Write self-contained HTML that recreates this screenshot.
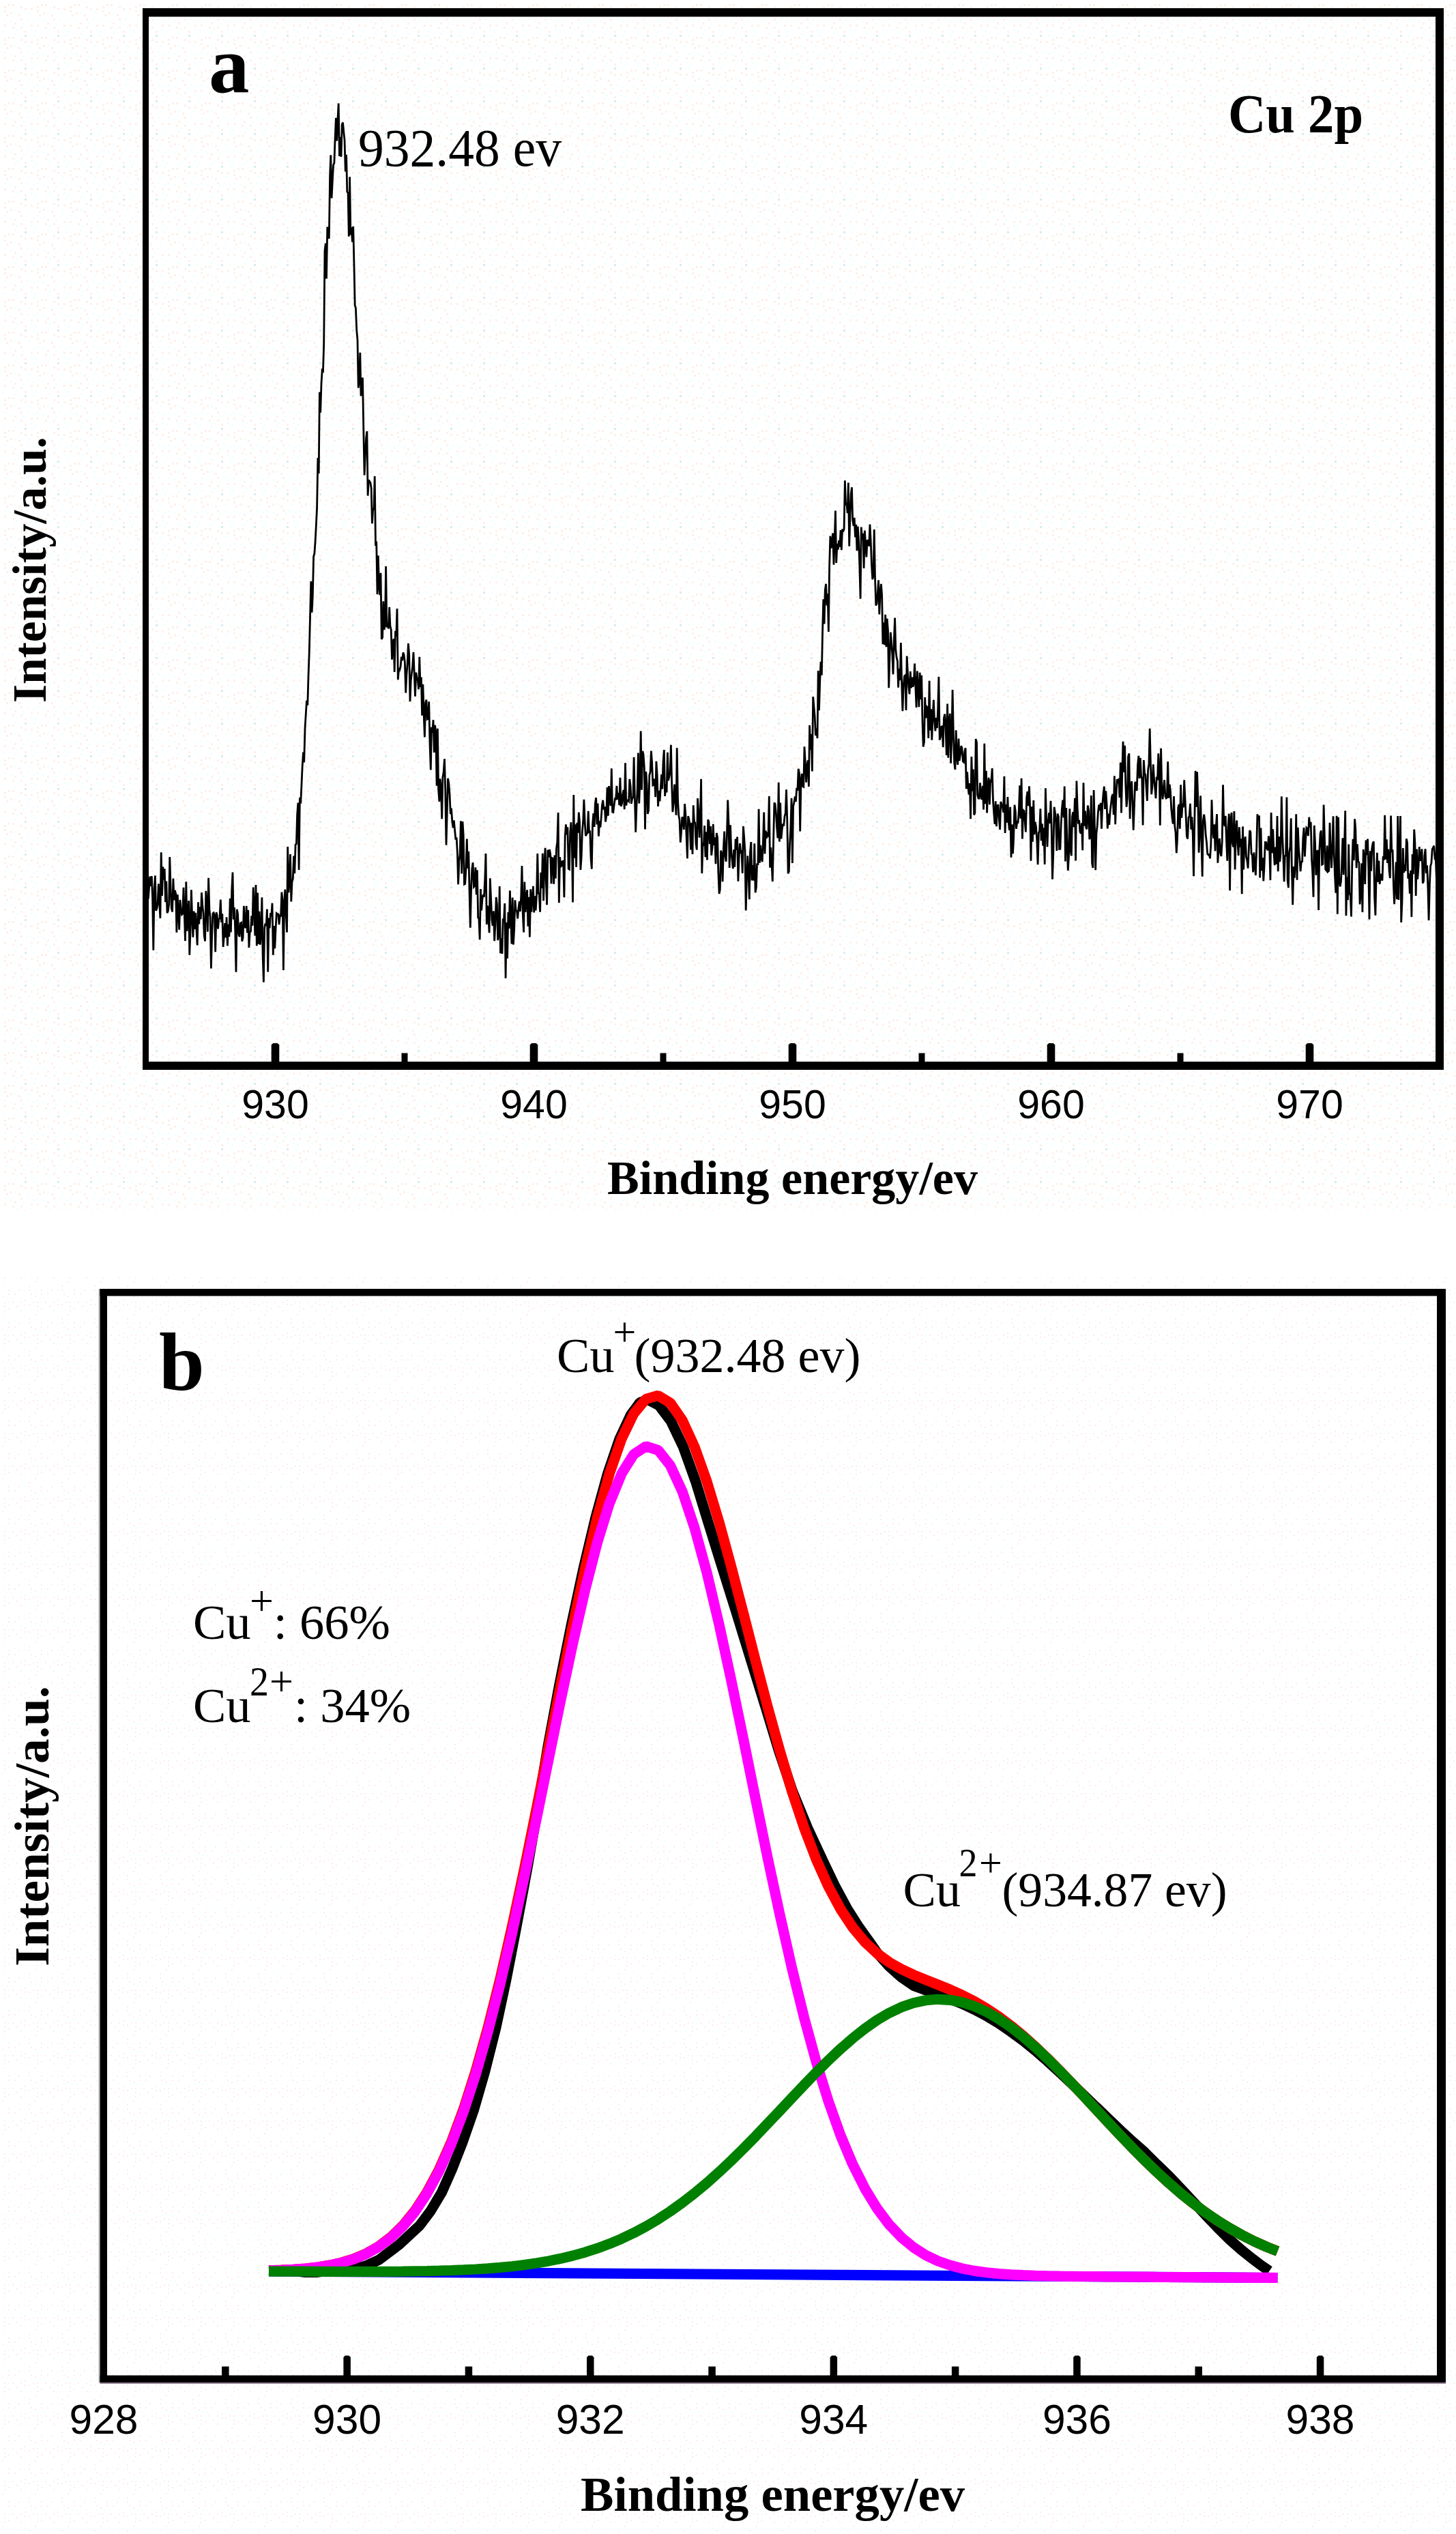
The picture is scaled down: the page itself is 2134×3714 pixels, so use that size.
<!DOCTYPE html>
<html lang="en"><head><meta charset="utf-8"><title>XPS Cu 2p spectra</title>
<style>html,body{margin:0;padding:0;background:#fff}body{width:2134px;height:3714px;overflow:hidden}svg{display:block}text{fill:#000}.sb{font-family:"Liberation Serif","Times New Roman",serif;font-weight:bold}.sr{font-family:"Liberation Serif","Times New Roman",serif}.ss{font-family:"Liberation Sans",Arial,sans-serif}</style></head><body>
<svg width="2134" height="3714" viewBox="0 0 2134 3714">
<defs>
<pattern id="da" width="48" height="48" patternUnits="userSpaceOnUse"><rect x="36" y="3" width="3" height="3" fill="#d6eded"/><rect x="6" y="9" width="3" height="3" fill="#fcf1ea"/><rect x="6" y="36" width="3" height="3" fill="#fcf1ea"/><rect x="39" y="27" width="3" height="3" fill="#f1ffff"/><rect x="0" y="3" width="3" height="3" fill="#f1ffff"/><rect x="15" y="18" width="3" height="3" fill="#fcf1ea"/><rect x="27" y="21" width="3" height="3" fill="#fcf1ea"/><rect x="12" y="6" width="3" height="3" fill="#fcf1ea"/><rect x="33" y="33" width="3" height="3" fill="#f1ffff"/><rect x="21" y="18" width="3" height="3" fill="#f1ffff"/><rect x="30" y="27" width="3" height="3" fill="#fcf1ea"/><rect x="36" y="45" width="3" height="3" fill="#fcf1ea"/><rect x="36" y="12" width="3" height="3" fill="#fcf1ea"/><rect x="15" y="30" width="3" height="3" fill="#f1ffff"/><rect x="3" y="45" width="3" height="3" fill="#f1ffff"/><rect x="45" y="12" width="3" height="3" fill="#fcf1ea"/><rect x="6" y="15" width="3" height="3" fill="#fcf1ea"/><rect x="9" y="21" width="3" height="3" fill="#fcf1ea"/><rect x="21" y="0" width="3" height="3" fill="#f1ffff"/><rect x="24" y="42" width="3" height="3" fill="#f1ffff"/><rect x="21" y="33" width="3" height="3" fill="#fcf1ea"/><rect x="30" y="9" width="3" height="3" fill="#fcf1ea"/><rect x="18" y="39" width="3" height="3" fill="#fcf1ea"/><rect x="0" y="30" width="3" height="3" fill="#f1ffff"/><rect x="42" y="18" width="3" height="3" fill="#f1ffff"/><rect x="45" y="36" width="3" height="3" fill="#fcf1ea"/><rect x="18" y="6" width="3" height="3" fill="#fcf1ea"/><rect x="30" y="39" width="3" height="3" fill="#fcf1ea"/><rect x="6" y="27" width="3" height="3" fill="#f1ffff"/><rect x="45" y="42" width="3" height="3" fill="#f1ffff"/></pattern>
<pattern id="db" width="48" height="48" patternUnits="userSpaceOnUse"><rect x="30" y="36" width="2" height="2" fill="#fcecec"/><rect x="0" y="36" width="2" height="2" fill="#fcecec"/><rect x="21" y="24" width="2" height="2" fill="#fcecec"/><rect x="30" y="12" width="2" height="2" fill="#f0ffff"/><rect x="45" y="0" width="2" height="2" fill="#f0ffff"/><rect x="12" y="18" width="2" height="2" fill="#fcecec"/><rect x="27" y="18" width="2" height="2" fill="#fcecec"/><rect x="6" y="0" width="2" height="2" fill="#fcecec"/><rect x="9" y="30" width="2" height="2" fill="#f0ffff"/><rect x="36" y="9" width="2" height="2" fill="#f0ffff"/><rect x="12" y="45" width="2" height="2" fill="#fcecec"/><rect x="6" y="42" width="2" height="2" fill="#fcecec"/><rect x="36" y="39" width="2" height="2" fill="#fcecec"/><rect x="3" y="18" width="2" height="2" fill="#f0ffff"/><rect x="30" y="30" width="2" height="2" fill="#f0ffff"/><rect x="30" y="0" width="2" height="2" fill="#fcecec"/><rect x="45" y="24" width="2" height="2" fill="#fcecec"/><rect x="42" y="12" width="2" height="2" fill="#fcecec"/><rect x="15" y="30" width="2" height="2" fill="#f0ffff"/><rect x="15" y="9" width="2" height="2" fill="#f0ffff"/><rect x="24" y="42" width="2" height="2" fill="#fcecec"/><rect x="42" y="39" width="2" height="2" fill="#fcecec"/><rect x="36" y="33" width="2" height="2" fill="#fcecec"/><rect x="36" y="0" width="2" height="2" fill="#f0ffff"/><rect x="12" y="36" width="2" height="2" fill="#f0ffff"/><rect x="3" y="6" width="2" height="2" fill="#fcecec"/><rect x="6" y="36" width="2" height="2" fill="#fcecec"/><rect x="12" y="24" width="2" height="2" fill="#fcecec"/><rect x="21" y="15" width="2" height="2" fill="#f0ffff"/><rect x="45" y="30" width="2" height="2" fill="#f0ffff"/><rect x="42" y="18" width="2" height="2" fill="#fcecec"/><rect x="3" y="27" width="2" height="2" fill="#fcecec"/><rect x="18" y="36" width="2" height="2" fill="#fcecec"/><rect x="36" y="18" width="2" height="2" fill="#f0ffff"/></pattern>
</defs>
<rect x="0" y="0" width="2134" height="3714" fill="#fff"/>
<rect x="4" y="6" width="2130" height="1768" fill="url(#da)"/>
<rect x="4" y="1872" width="2130" height="1842" fill="url(#db)"/>
<g id="panel-a">
<rect x="209" y="12" width="1907" height="12.5"/>
<rect x="209" y="1556" width="1907" height="12"/>
<rect x="209" y="12" width="9" height="1556"/>
<rect x="2104" y="12" width="12" height="1556"/>
<path d="M397.7 1557V1531.5l2.5-2.5h6.6l2.5 2.5V1557z"/>
<rect x="588.5" y="1543.5" width="9" height="13"/>
<path d="M776.7 1557V1531.5l2.5-2.5h6.6l2.5 2.5V1557z"/>
<rect x="967.5" y="1543.5" width="9" height="13"/>
<path d="M1155.7 1557V1531.5l2.5-2.5h6.6l2.5 2.5V1557z"/>
<rect x="1346.5" y="1543.5" width="9" height="13"/>
<path d="M1534.7 1557V1531.5l2.5-2.5h6.6l2.5 2.5V1557z"/>
<rect x="1725.5" y="1543.5" width="9" height="13"/>
<path d="M1913.7 1557V1531.5l2.5-2.5h6.6l2.5 2.5V1557z"/>
<text class="ss" x="403.5" y="1638.5" font-size="59" text-anchor="middle">930</text>
<text class="ss" x="782.5" y="1638.5" font-size="59" text-anchor="middle">940</text>
<text class="ss" x="1161.5" y="1638.5" font-size="59" text-anchor="middle">950</text>
<text class="ss" x="1540.5" y="1638.5" font-size="59" text-anchor="middle">960</text>
<text class="ss" x="1919.5" y="1638.5" font-size="59" text-anchor="middle">970</text>
<polyline fill="none" stroke="#000" stroke-width="2.8" stroke-linejoin="miter" stroke-miterlimit="3" points="216,1307.2 217.3,1317.5 218.5,1301.6 219.8,1284.5 221,1298.9 222.3,1284.1 223.6,1316.9 224.8,1392.8 226.1,1302.8 227.4,1283.4 228.6,1334.7 229.9,1331.8 231.1,1325.3 232.4,1295.3 233.7,1323.3 234.9,1345.9 236.2,1249.3 237.5,1312.9 238.7,1270.3 240,1289.3 241.2,1273.3 242.5,1322.1 243.8,1291.6 245,1338.3 246.3,1335.4 247.6,1325.6 248.8,1256.1 250.1,1301.4 251.3,1331.1 252.6,1336.4 253.9,1287.5 255.1,1319.5 256.4,1304.9 257.7,1310.3 258.9,1366.8 260.2,1311.1 261.4,1334.7 262.7,1362.6 264,1318.9 265.2,1333.4 266.5,1340.4 267.7,1339.3 269,1300.9 270.3,1340.3 271.5,1379.1 272.8,1292.2 274.1,1364.7 275.3,1342.8 276.6,1320.2 277.8,1399.8 279.1,1362.9 280.4,1304.3 281.6,1342.8 282.9,1373.8 284.2,1335.5 285.4,1361.9 286.7,1337.9 287.9,1362 289.2,1385.5 290.5,1322.3 291.7,1354.5 293,1329.3 294.3,1347.3 295.5,1308.2 296.8,1326.8 298,1338.6 299.3,1371.8 300.6,1379.5 301.8,1305.8 303.1,1322 304.4,1365.6 305.6,1286.8 306.9,1333.1 308.1,1344.4 309.4,1419.4 310.7,1368.8 311.9,1338.7 313.2,1337.8 314.4,1341.7 315.7,1395.3 317,1337.2 318.2,1341.3 319.5,1361.4 320.8,1347.5 322,1345.6 323.3,1318.5 324.5,1351.9 325.8,1339.4 327.1,1388 328.3,1373 329.6,1353 330.9,1374.1 332.1,1344.2 333.4,1386.3 334.6,1354.9 335.9,1372.9 337.2,1316.9 338.4,1366.4 339.7,1305.6 341,1278.5 342.2,1347.6 343.5,1330 344.7,1362.1 346,1424.8 347.3,1332.7 348.5,1339.1 349.8,1369.7 351.1,1372.9 352.3,1353 353.6,1352.3 354.8,1379.7 356.1,1374.3 357.4,1327.9 358.6,1356.7 359.9,1360.2 361.2,1327.7 362.4,1367.3 363.7,1333.9 364.9,1388.9 366.2,1365.7 367.5,1365.1 368.7,1342.4 370,1356.7 371.2,1300.5 372.5,1326.6 373.8,1371.5 375,1296.9 376.3,1386.3 377.6,1308.6 378.8,1383.8 380.1,1335.8 381.3,1384.6 382.6,1368.8 383.9,1315.3 385.1,1399 386.4,1439.6 387.7,1359.7 388.9,1353.5 390.2,1357 391.4,1332.6 392.7,1424.5 394,1345.6 395.2,1360.4 396.5,1338.2 397.8,1343.2 399,1323.7 400.3,1399.7 401.5,1357.1 402.8,1390.2 404.1,1360.9 405.3,1338.6 406.6,1339.5 407.9,1339.8 409.1,1355.2 410.4,1341.8 411.6,1342 412.9,1307.5 414.2,1322.4 415.4,1422.1 416.7,1320.2 417.9,1303.7 419.2,1339.9 420.5,1366.4 421.7,1241.1 423,1308.1 424.3,1290.7 425.5,1252 426.8,1321.5 428,1292.6 429.3,1288.3 430.6,1254.6 431.8,1280.1 433.1,1238.1 434.4,1236.8 435.6,1194 436.9,1176.6 438.1,1275 439.4,1169.1 440.7,1177.8 441.9,1152 443.2,1122.8 444.5,1102.7 445.7,1117.5 447,1068.1 448.2,1048.2 449.5,1026.9 450.8,1033.8 452,991.1 453.3,955 454.6,901.2 455.8,852 457.1,897.7 458.3,873.9 459.6,815.8 460.9,811.2 462.1,793.5 463.4,769.1 464.6,743.9 465.9,670.9 467.2,694 468.4,574.8 469.7,604.8 471,561.8 472.2,542.6 473.5,543.7 474.7,504.1 476,367.4 477.3,356.6 478.5,408.5 479.8,332.6 481.1,342.8 482.3,349.7 483.6,257.6 484.8,227.3 486.1,290.5 487.4,263.5 488.6,242 489.9,238.6 491.2,201.1 492.4,172.8 493.7,206.5 494.9,176.1 496.2,151.6 497.5,229 498.7,200.7 500,229.9 501.3,182.2 502.5,179.7 503.8,193.7 505,204.8 506.3,251.4 507.6,226.7 508.8,281.2 510.1,282.7 511.3,346.6 512.6,259.2 513.9,344.3 515.1,333 516.4,354.6 517.7,331.8 518.9,384.8 520.2,447.7 521.4,451.2 522.7,483.5 524,498.3 525.2,568.5 526.5,558.5 527.8,516.7 529,580.5 530.3,558 531.5,553.5 532.8,628.7 534.1,696.5 535.3,668.7 536.6,641.9 537.9,632.1 539.1,726.6 540.4,703.4 541.6,705.4 542.9,707.5 544.2,715.9 545.4,767.3 546.7,746.1 548,746 549.2,697.9 550.5,799.9 551.7,793.4 553,871.1 554.3,814.4 555.5,859.2 556.8,872.1 558,839.8 559.3,937 560.6,934.2 561.8,881.3 563.1,922.9 564.4,915.4 565.6,830.1 566.9,919.4 568.1,913.7 569.4,921.4 570.7,889.9 571.9,917.2 573.2,922.9 574.5,966.7 575.7,943.8 577,936.3 578.2,984.9 579.5,924.9 580.8,932.4 582,892.1 583.3,996.2 584.6,980.5 585.8,981.7 587.1,976.9 588.3,962.6 589.6,968.1 590.9,956.3 592.1,959.9 593.4,971.2 594.7,1015.5 595.9,988.8 597.2,972.3 598.4,943 599.7,959 601,1028.1 602.2,997.4 603.5,986.4 604.7,976.3 606,955.8 607.3,989.6 608.5,1020.6 609.8,985.6 611.1,993.6 612.3,997 613.6,1010.3 614.8,962.8 616.1,1007.2 617.4,992.5 618.6,1048.6 619.9,1003 621.2,1047.7 622.4,1080.4 623.7,1029.7 624.9,1025.6 626.2,1054.1 627.5,1053.1 628.7,1028.2 630,1089.2 631.3,1128.5 632.5,1065.9 633.8,1073.8 635,1055.2 636.3,1103 637.6,1062.9 638.8,1073.8 640.1,1151.8 641.4,1067.7 642.6,1156.9 643.9,1174.9 645.1,1141.3 646.4,1154.3 647.7,1200.2 648.9,1139.5 650.2,1131.4 651.5,1112.3 652.7,1157.9 654,1238.6 655.2,1193.5 656.5,1140.8 657.8,1148 659,1163.6 660.3,1193.3 661.5,1184.7 662.8,1204 664.1,1213.3 665.3,1202.4 666.6,1216.8 667.9,1230.5 669.1,1227.5 670.4,1250.2 671.6,1296.1 672.9,1262.5 674.2,1251.1 675.4,1203.4 676.7,1280.4 678,1204.1 679.2,1224.3 680.5,1296 681.7,1295.3 683,1273.1 684.3,1229.5 685.5,1272.8 686.8,1248.1 688.1,1308.6 689.3,1359.8 690.6,1301.1 691.8,1273.6 693.1,1264.2 694.4,1299.8 695.6,1298.4 696.9,1271.2 698.2,1311.2 699.4,1275.2 700.7,1345 701.9,1345.4 703.2,1377.2 704.5,1303 705.7,1334.5 707,1317 708.2,1311.3 709.5,1314.7 710.8,1288 712,1251 713.3,1354.9 714.6,1327.4 715.8,1341.7 717.1,1367.3 718.3,1287.2 719.6,1317.6 720.9,1348.3 722.1,1356.7 723.4,1335.3 724.7,1379.2 725.9,1356.2 727.2,1315 728.4,1324.8 729.7,1378.1 731,1369 732.2,1299 733.5,1397.2 734.8,1375.3 736,1398 737.3,1346.5 738.5,1349.1 739.8,1324.1 741.1,1433.8 742.3,1352.1 743.6,1404.6 744.9,1337.1 746.1,1360.9 747.4,1305.2 748.6,1343.1 749.9,1383.4 751.2,1315.6 752.4,1384.5 753.7,1361.6 754.9,1319.3 756.2,1334.6 757.5,1335 758.7,1346.4 760,1330.9 761.3,1321.2 762.5,1335.9 763.8,1313.1 765,1269.1 766.3,1339.9 767.6,1366.4 768.8,1292.6 770.1,1337 771.4,1315.8 772.6,1304.4 773.9,1357.6 775.1,1314.8 776.4,1373.5 777.7,1303.4 778.9,1336.7 780.2,1316.5 781.5,1298.9 782.7,1337.4 784,1313.4 785.2,1334.4 786.5,1313.2 787.8,1251.1 789,1308.2 790.3,1311.2 791.6,1336.6 792.8,1278.9 794.1,1302 795.3,1250.8 796.6,1320.2 797.9,1266.3 799.1,1242.7 800.4,1293.2 801.6,1326.3 802.9,1245.5 804.2,1256.7 805.4,1245.1 806.7,1251.7 808,1295.1 809.2,1257.6 810.5,1258.3 811.7,1295.6 813,1253.6 814.3,1287.4 815.5,1243.5 816.8,1234.5 818.1,1191.1 819.3,1323.3 820.6,1256.2 821.8,1271.4 823.1,1261.6 824.4,1270.1 825.6,1260.9 826.9,1315.2 828.2,1225.3 829.4,1208.4 830.7,1223.3 831.9,1212.2 833.2,1273.3 834.5,1274.2 835.7,1219.4 837,1205.2 838.3,1235 839.5,1322.4 840.8,1165.1 842,1257.6 843.3,1208.3 844.6,1270.6 845.8,1205.8 847.1,1220.6 848.3,1190.5 849.6,1205.2 850.9,1274.9 852.1,1256.7 853.4,1218.9 854.7,1203.6 855.9,1171.7 857.2,1204.9 858.4,1225.2 859.7,1222.4 861,1221 862.2,1188.9 863.5,1219.4 864.8,1219 866,1257.6 867.3,1273.7 868.5,1208.6 869.8,1192.2 871.1,1212 872.3,1178 873.6,1169.1 874.9,1208.4 876.1,1177.6 877.4,1225.8 878.6,1203.2 879.9,1212.6 881.2,1198.3 882.4,1180.7 883.7,1172.8 885,1186.5 886.2,1182.3 887.5,1204.5 888.7,1196.1 890,1154.1 891.3,1195.7 892.5,1152.1 893.8,1172.6 895.1,1181 896.3,1126.4 897.6,1190.1 898.8,1190.6 900.1,1180.1 901.4,1170.8 902.6,1171.1 903.9,1151.8 905.1,1171.7 906.4,1162 907.7,1180.1 908.9,1139.9 910.2,1181.9 911.5,1177.8 912.7,1164.1 914,1157.7 915.2,1186.1 916.5,1118.2 917.8,1180.6 919,1172.7 920.3,1172.6 921.6,1174.3 922.8,1141.9 924.1,1152.4 925.3,1178 926.6,1170.6 927.9,1168.3 929.1,1109.9 930.4,1170.3 931.7,1219.8 932.9,1182.4 934.2,1158.1 935.4,1103.5 936.7,1177.6 938,1144 939.2,1071.5 940.5,1157.8 941.8,1100.8 943,1105.8 944.3,1124.7 945.5,1215.4 946.8,1130.9 948.1,1149.4 949.3,1193 950.6,1187.7 951.8,1136.2 953.1,1131.6 954.4,1100.6 955.6,1117.3 956.9,1150.8 958.2,1149.9 959.4,1141.5 960.7,1168.3 961.9,1115.8 963.2,1136.4 964.5,1182 965.7,1158.7 967,1174.3 968.3,1155.2 969.5,1135.1 970.8,1156.5 972,1116.8 973.3,1099 974.6,1167 975.8,1149.2 977.1,1161.5 978.4,1102.7 979.6,1144 980.9,1138.3 982.1,1131.9 983.4,1091.9 984.7,1151.3 985.9,1190.2 987.2,1176.8 988.5,1149.5 989.7,1169.3 991,1194.7 992.2,1096.3 993.5,1172.9 994.8,1195.3 996,1201.8 997.3,1234.7 998.5,1220 999.8,1197.5 1001.1,1199.4 1002.3,1216 1003.6,1178.1 1004.9,1195 1006.1,1225.1 1007.4,1258.2 1008.6,1196.2 1009.9,1201 1011.2,1209.8 1012.4,1245.5 1013.7,1205.7 1015,1252 1016.2,1180.2 1017.5,1204.9 1018.7,1205.7 1020,1236.5 1021.3,1245.5 1022.5,1170 1023.8,1189 1025.1,1227.7 1026.3,1198.9 1027.6,1141.8 1028.8,1280.1 1030.1,1236.9 1031.4,1238 1032.6,1210 1033.9,1256.2 1035.2,1219.3 1036.4,1260.5 1037.7,1201.4 1038.9,1204.3 1040.2,1237.2 1041.5,1211.1 1042.7,1253.6 1044,1242.2 1045.2,1207.9 1046.5,1238.8 1047.8,1227.2 1049,1266.3 1050.3,1220.9 1051.6,1227.7 1052.8,1278.2 1054.1,1310 1055.3,1303.8 1056.6,1246.6 1057.9,1252.1 1059.1,1292.3 1060.4,1243.4 1061.7,1218.5 1062.9,1255.2 1064.2,1262.7 1065.4,1225 1066.7,1172.6 1068,1208.2 1069.2,1271.9 1070.5,1209.4 1071.8,1249.1 1073,1260.4 1074.3,1273.2 1075.5,1245.2 1076.8,1270.8 1078.1,1229.6 1079.3,1246 1080.6,1226.6 1081.9,1291.7 1083.1,1257.3 1084.4,1236.2 1085.6,1248.1 1086.9,1246.2 1088.2,1280 1089.4,1211.1 1090.7,1227.8 1091.9,1247.4 1093.2,1334.5 1094.5,1286.8 1095.7,1254.3 1097,1278.5 1098.3,1318.2 1099.5,1248.8 1100.8,1234.1 1102,1290.5 1103.3,1268.1 1104.6,1290.7 1105.8,1236.2 1107.1,1308.2 1108.4,1300.8 1109.6,1265.5 1110.9,1268.1 1112.1,1185.7 1113.4,1264.7 1114.7,1238.8 1115.9,1256.8 1117.2,1263.3 1118.5,1231.8 1119.7,1190.5 1121,1251.4 1122.2,1217.3 1123.5,1228.8 1124.8,1219.8 1126,1226.8 1127.3,1166.9 1128.6,1271.8 1129.8,1242 1131.1,1266.9 1132.3,1292 1133.6,1232.3 1134.9,1176.5 1136.1,1178.5 1137.4,1192.2 1138.6,1212.1 1139.9,1228.4 1141.2,1146.7 1142.4,1233.6 1143.7,1176.6 1145,1229.4 1146.2,1215.5 1147.5,1207.5 1148.7,1210.7 1150,1196.4 1151.3,1191.8 1152.5,1157.2 1153.8,1204.1 1155.1,1280.2 1156.3,1277.3 1157.6,1236 1158.8,1214.5 1160.1,1169.9 1161.4,1265.1 1162.6,1182 1163.9,1176.1 1165.2,1167.5 1166.4,1175 1167.7,1154.9 1168.9,1158.9 1170.2,1126.7 1171.5,1133.4 1172.7,1218.6 1174,1143.5 1175.3,1133.9 1176.5,1152.5 1177.8,1153.3 1179,1094.3 1180.3,1117.3 1181.6,1146.8 1182.8,1123.1 1184.1,1114.4 1185.4,1152.9 1186.6,1063 1187.9,1099.2 1189.1,1075.9 1190.4,1130.5 1191.7,1021.2 1192.9,1034.9 1194.2,1050 1195.4,1078 1196.7,1067.7 1198,1082.1 1199.2,983 1200.5,1041.3 1201.8,996.3 1203,969.7 1204.3,989.6 1205.5,929.3 1206.8,878.4 1208.1,914.5 1209.3,864.7 1210.6,855.8 1211.9,887.4 1213.1,870.3 1214.4,925.9 1215.6,832.1 1216.9,785.6 1218.2,803.6 1219.4,794.3 1220.7,781.5 1222,827.6 1223.2,791.9 1224.5,748.5 1225.7,825.1 1227,796.7 1228.3,805.6 1229.5,792.2 1230.8,801.5 1232.1,777 1233.3,806.2 1234.6,775.5 1235.8,779.2 1237.1,775.3 1238.4,704.4 1239.6,740.7 1240.9,737.2 1242.1,752.2 1243.4,707.5 1244.7,800.6 1245.9,758.8 1247.2,724.1 1248.5,714.3 1249.7,762.3 1251,770.7 1252.2,758.9 1253.5,787.4 1254.8,768.7 1256,807.3 1257.3,771.7 1258.6,793.7 1259.8,827.6 1261.1,877.6 1262.3,772.5 1263.6,791 1264.9,781.9 1266.1,833 1267.4,777.5 1268.7,800 1269.9,816.5 1271.2,791.1 1272.4,795.1 1273.7,800.5 1275,768.5 1276.2,792.4 1277.5,827.8 1278.8,849.2 1280,843.8 1281.3,776.1 1282.5,844.9 1283.8,887.4 1285.1,884.8 1286.3,870.3 1287.6,850.4 1288.8,900.5 1290.1,868.9 1291.4,855.9 1292.6,871.8 1293.9,944.2 1295.2,912.2 1296.4,945.2 1297.7,900.9 1298.9,948.2 1300.2,906.7 1301.5,924.5 1302.7,1008.2 1304,960.8 1305.3,926.7 1306.5,940.7 1307.8,958.7 1309,988.4 1310.3,940.4 1311.6,905.6 1312.8,952.2 1314.1,963.7 1315.4,969 1316.6,1007.7 1317.9,980 1319.1,997.2 1320.4,942 1321.7,1003.2 1322.9,1042.2 1324.2,1004.6 1325.5,991 1326.7,990 1328,1041 1329.2,961.5 1330.5,987.9 1331.8,1007 1333,1017.4 1334.3,984 1335.5,1008.3 1336.8,992.7 1338.1,1006.6 1339.3,1001 1340.6,972.6 1341.9,1008.1 1343.1,1037 1344.4,983.5 1345.6,1007.1 1346.9,1036.1 1348.2,985.9 1349.4,1025.2 1350.7,989.7 1352,1057.3 1353.2,1094.4 1354.5,1087.5 1355.7,1022 1357,1052.5 1358.3,1035.7 1359.5,1036.9 1360.8,1082 1362.1,997.7 1363.3,1070.7 1364.6,1039.3 1365.8,1084.8 1367.1,1049.9 1368.4,1025.8 1369.6,1056 1370.9,1071.4 1372.2,1052 1373.4,1067.2 1374.7,1038.6 1375.9,991.9 1377.2,1084.5 1378.5,1080.2 1379.7,1065.3 1381,1064.6 1382.2,1095.3 1383.5,1052.2 1384.8,1046.5 1386,1063.8 1387.3,1106.9 1388.6,1031.5 1389.8,1110.7 1391.1,1057.7 1392.3,1045.8 1393.6,1118.7 1394.9,1080.1 1396.1,1011.1 1397.4,1076.7 1398.7,1117.8 1399.9,1127.9 1401.2,1070.2 1402.4,1109.2 1403.7,1120.9 1405,1082.6 1406.2,1115 1407.5,1105.8 1408.8,1093.1 1410,1096.8 1411.3,1116 1412.5,1117.2 1413.8,1101.6 1415.1,1096.4 1416.3,1156.2 1417.6,1131.3 1418.9,1153.3 1420.1,1164.7 1421.4,1148.1 1422.6,1200.3 1423.9,1109.1 1425.2,1159.7 1426.4,1127.6 1427.7,1194.4 1428.9,1191.2 1430.2,1083.1 1431.5,1088.1 1432.7,1164.7 1434,1170 1435.3,1170 1436.5,1147.3 1437.8,1164.6 1439,1172.1 1440.3,1151.8 1441.6,1186.6 1442.8,1089.7 1444.1,1178.2 1445.4,1129.9 1446.6,1191.5 1447.9,1151.5 1449.1,1139.7 1450.4,1179.3 1451.7,1142.5 1452.9,1144.1 1454.2,1126 1455.5,1173.8 1456.7,1190.9 1458,1208 1459.2,1174.3 1460.5,1211.1 1461.8,1181.4 1463,1179.2 1464.3,1200.3 1465.6,1215.9 1466.8,1175 1468.1,1178.9 1469.3,1182.4 1470.6,1190.7 1471.9,1137.8 1473.1,1220.9 1474.4,1179 1475.7,1205.7 1476.9,1168 1478.2,1204.4 1479.4,1216.8 1480.7,1182.7 1482,1256.8 1483.2,1208.2 1484.5,1251.2 1485.7,1227.6 1487,1179.8 1488.3,1189.2 1489.5,1214.7 1490.8,1204.4 1492.1,1205 1493.3,1188.2 1494.6,1151.2 1495.8,1199.6 1497.1,1140.8 1498.4,1229.4 1499.6,1187.3 1500.9,1188.4 1502.2,1204.1 1503.4,1219.5 1504.7,1169 1505.9,1160.1 1507.2,1181.1 1508.5,1152.2 1509.7,1184.7 1511,1261.7 1512.3,1182.3 1513.5,1233.7 1514.8,1173 1516,1223.2 1517.3,1204.7 1518.6,1212.6 1519.8,1231.5 1521.1,1267.1 1522.4,1220.3 1523.6,1218.2 1524.9,1185.3 1526.1,1232.1 1527.4,1207.2 1528.7,1239.6 1529.9,1213.3 1531.2,1266.9 1532.4,1155.2 1533.7,1205.9 1535,1241.3 1536.2,1204.4 1537.5,1191.2 1538.8,1207 1540,1173.7 1541.3,1218.9 1542.5,1288.7 1543.8,1250.1 1545.1,1182.7 1546.3,1190.1 1547.6,1204.4 1548.9,1247 1550.1,1192.6 1551.4,1196.9 1552.6,1244.4 1553.9,1244.2 1555.2,1207.3 1556.4,1185.3 1557.7,1172.6 1559,1198.4 1560.2,1152.6 1561.5,1262.5 1562.7,1184 1564,1234.4 1565.3,1276 1566.5,1255.2 1567.8,1185.3 1569.1,1245.8 1570.3,1254.2 1571.6,1196.7 1572.8,1190.1 1574.1,1212.1 1575.4,1169.8 1576.6,1261.4 1577.9,1144.6 1579.1,1183 1580.4,1207.5 1581.7,1201.9 1582.9,1219.2 1584.2,1221.7 1585.5,1206.4 1586.7,1246.2 1588,1147.2 1589.2,1210.7 1590.5,1188.5 1591.8,1213.3 1593,1215.2 1594.3,1180.5 1595.6,1187.9 1596.8,1230.1 1598.1,1225.4 1599.3,1165.9 1600.6,1264.9 1601.9,1272.1 1603.1,1158 1604.4,1210 1605.7,1275.2 1606.9,1222.4 1608.2,1210.4 1609.4,1190.5 1610.7,1179.4 1612,1188.1 1613.2,1176.9 1614.5,1214.6 1615.8,1179.1 1617,1164.7 1618.3,1152.6 1619.5,1186 1620.8,1159.3 1622.1,1179.3 1623.3,1214.5 1624.6,1192.7 1625.8,1208.9 1627.1,1189.1 1628.4,1178.5 1629.6,1167.7 1630.9,1164 1632.2,1194.2 1633.4,1137.2 1634.7,1208.2 1635.9,1167.3 1637.2,1142.1 1638.5,1148.3 1639.7,1141.1 1641,1169 1642.3,1117.6 1643.5,1191.5 1644.8,1132.6 1646,1086.8 1647.3,1132 1648.6,1092.7 1649.8,1150.7 1651.1,1182.6 1652.4,1169.2 1653.6,1108.6 1654.9,1104.3 1656.1,1200.1 1657.4,1155.4 1658.7,1145 1659.9,1175.7 1661.2,1216.8 1662.5,1181.3 1663.7,1145.9 1665,1151.7 1666.2,1159 1667.5,1121.6 1668.8,1107.8 1670,1140.9 1671.3,1110.7 1672.5,1137.2 1673.8,1141.9 1675.1,1209.5 1676.3,1114.1 1677.6,1133.2 1678.9,1135.8 1680.1,1154.7 1681.4,1173.8 1682.6,1128.7 1683.9,1119.9 1685.2,1067.7 1686.4,1119.1 1687.7,1164.3 1689,1150.9 1690.2,1120.4 1691.5,1141 1692.7,1154.5 1694,1170.1 1695.3,1138.5 1696.5,1143.4 1697.8,1104.4 1699.1,1125.6 1700.3,1209.8 1701.6,1096.8 1702.8,1153.5 1704.1,1171.4 1705.4,1154.9 1706.6,1143.2 1707.9,1166.9 1709.2,1169.9 1710.4,1168.9 1711.7,1116.3 1712.9,1169.6 1714.2,1149.7 1715.5,1160.2 1716.7,1184.8 1718,1198.5 1719.3,1207.5 1720.5,1167 1721.8,1210.8 1723,1219.6 1724.3,1250.3 1725.6,1228.4 1726.8,1183.5 1728.1,1179 1729.3,1214.8 1730.6,1150.2 1731.9,1198.6 1733.1,1177.5 1734.4,1183.4 1735.7,1143.3 1736.9,1169.9 1738.2,1197.1 1739.4,1225.4 1740.7,1229.5 1742,1198.4 1743.2,1196.1 1744.5,1177.9 1745.8,1215.8 1747,1197.2 1748.3,1223.7 1749.5,1284.3 1750.8,1205.3 1752.1,1129.9 1753.3,1182.8 1754.6,1131.3 1755.9,1174.1 1757.1,1249.8 1758.4,1218 1759.6,1166.2 1760.9,1232 1762.2,1284.8 1763.4,1202.7 1764.7,1193.7 1766,1204.4 1767.2,1223.6 1768.5,1234.7 1769.7,1251.5 1771,1252.9 1772.3,1252.5 1773.5,1258.3 1774.8,1237.7 1776,1172.4 1777.3,1214.8 1778.6,1228.6 1779.8,1208.2 1781.1,1247.4 1782.4,1209.7 1783.6,1193.2 1784.9,1264.7 1786.1,1241.8 1787.4,1228.9 1788.7,1250.5 1789.9,1255 1791.2,1233.8 1792.5,1150.2 1793.7,1204.1 1795,1211.1 1796.2,1195.7 1797.5,1231.6 1798.8,1261.8 1800,1211.8 1801.3,1192.7 1802.6,1305.2 1803.8,1201.8 1805.1,1191 1806.3,1235.5 1807.6,1241.5 1808.9,1188.9 1810.1,1274.5 1811.4,1215.2 1812.7,1202.5 1813.9,1235.9 1815.2,1254 1816.4,1212.2 1817.7,1241.5 1819,1229.2 1820.2,1310.3 1821.5,1211.4 1822.7,1274.5 1824,1231.7 1825.3,1226.4 1826.5,1255.6 1827.8,1261.1 1829.1,1272.6 1830.3,1244.8 1831.6,1217.2 1832.8,1219.4 1834.1,1251.2 1835.4,1253.6 1836.6,1278.4 1837.9,1249.3 1839.2,1268.9 1840.4,1282.9 1841.7,1242.6 1842.9,1193.4 1844.2,1202.8 1845.5,1195.3 1846.7,1286.5 1848,1213.6 1849.3,1276.2 1850.5,1257.1 1851.8,1291.3 1853,1270.2 1854.3,1234.5 1855.6,1234.6 1856.8,1243.4 1858.1,1246.3 1859.4,1225.4 1860.6,1240.6 1861.9,1290.1 1863.1,1191 1864.4,1250.1 1865.7,1215.3 1866.9,1248.4 1868.2,1268.2 1869.4,1241.5 1870.7,1266.7 1872,1196.1 1873.2,1277.2 1874.5,1226.1 1875.8,1263.2 1877,1250.2 1878.3,1167.4 1879.5,1222.5 1880.8,1252.1 1882.1,1292.3 1883.3,1254.6 1884.6,1253.9 1885.9,1168.5 1887.1,1289.7 1888.4,1301.2 1889.6,1248.9 1890.9,1240.9 1892.2,1199.2 1893.4,1274.5 1894.7,1326.3 1896,1270.1 1897.2,1286.7 1898.5,1265.3 1899.7,1193.2 1901,1289.7 1902.3,1212.8 1903.5,1243.8 1904.8,1258.7 1906.1,1277.1 1907.3,1263.4 1908.6,1262.8 1909.8,1228.6 1911.1,1213 1912.4,1255.5 1913.6,1230.9 1914.9,1213.3 1916.1,1214.8 1917.4,1225.1 1918.7,1197.7 1919.9,1213.1 1921.2,1204.7 1922.5,1259.5 1923.7,1277.6 1925,1314.8 1926.2,1209.9 1927.5,1234.7 1928.8,1282.7 1930,1249.1 1931.3,1246.1 1932.6,1334.1 1933.8,1246.2 1935.1,1221.9 1936.3,1217.4 1937.6,1267.2 1938.9,1266.5 1940.1,1179.6 1941.4,1228.3 1942.7,1274.2 1943.9,1275.7 1945.2,1239.3 1946.4,1277.5 1947.7,1276.3 1949,1205.9 1950.2,1241.8 1951.5,1272.3 1952.8,1242.9 1954,1196.2 1955.3,1252.2 1956.5,1283.5 1957.8,1308.6 1959.1,1195.7 1960.3,1339.7 1961.6,1197.7 1962.8,1290.9 1964.1,1299.4 1965.4,1292.2 1966.6,1267.4 1967.9,1228.3 1969.2,1282.2 1970.4,1242.2 1971.7,1188.2 1972.9,1342.1 1974.2,1285.6 1975.5,1319.2 1976.7,1237.5 1978,1309.1 1979.3,1313 1980.5,1343.5 1981.8,1265.1 1983,1229.9 1984.3,1260.9 1985.6,1200.3 1986.8,1215.5 1988.1,1272.1 1989.4,1237.3 1990.6,1262.3 1991.9,1264.1 1993.1,1325.5 1994.4,1306.7 1995.7,1265.4 1996.9,1337 1998.2,1244.9 1999.5,1258.4 2000.7,1296 2002,1231.6 2003.2,1253.1 2004.5,1229.6 2005.8,1273 2007,1347.6 2008.3,1247.2 2009.6,1276.8 2010.8,1243.3 2012.1,1235.9 2013.3,1233.5 2014.6,1314.4 2015.9,1341.8 2017.1,1285.6 2018.4,1249.8 2019.6,1292.6 2020.9,1261.6 2022.2,1295.9 2023.4,1280.7 2024.7,1288.1 2026,1290.5 2027.2,1255.1 2028.5,1260.5 2029.7,1194.8 2031,1259.6 2032.3,1230.4 2033.5,1264.9 2034.8,1244.5 2036.1,1276.4 2037.3,1287.1 2038.6,1195.6 2039.8,1249.3 2041.1,1245.4 2042.4,1296.2 2043.6,1325.1 2044.9,1299.5 2046.2,1263.5 2047.4,1317.9 2048.7,1196 2049.9,1319 2051.2,1254.3 2052.5,1196 2053.7,1352 2055,1321.3 2056.3,1243 2057.5,1279 2058.8,1267.4 2060,1276.9 2061.3,1229.3 2062.6,1234.9 2063.8,1287.7 2065.1,1280.3 2066.3,1309.6 2067.6,1275.9 2068.9,1343.9 2070.1,1251.9 2071.4,1281.1 2072.7,1215.7 2073.9,1235.5 2075.2,1312.9 2076.4,1244.6 2077.7,1288.7 2079,1270.8 2080.2,1241.2 2081.5,1262 2082.8,1256.9 2084,1244.4 2085.3,1294.6 2086.5,1291.4 2087.8,1254.4 2089.1,1244.3 2090.3,1279.9 2091.6,1268.2 2092.9,1301.9 2094.1,1348.9 2095.4,1295.9 2096.6,1269.4 2097.9,1265.1 2099.2,1244.4 2100.4,1242.6 2101.7,1239.5 2103,1257.5 2104.2,1256.3 2105.5,1291.2 2106.7,1256.7 2108,1262.5"/>
<text class="sb" x="306" y="135" font-size="119">a</text>
<text class="sb" x="1800" y="193.5" font-size="81" textLength="198" lengthAdjust="spacingAndGlyphs">Cu 2p</text>
<text class="sr" x="525" y="242.7" font-size="79" textLength="298" lengthAdjust="spacingAndGlyphs">932.48 ev</text>
<text class="sb" x="890" y="1749.5" font-size="69.5" textLength="543" lengthAdjust="spacingAndGlyphs">Binding energy/ev</text>
<text class="sb" transform="translate(67 1030) rotate(-90)" font-size="69.5" textLength="390" lengthAdjust="spacingAndGlyphs">Intensity/a.u.</text>
</g>
<g id="panel-b">
<rect x="144.5" y="1889" width="2" height="1603" fill="#b9b9b9"/>
<rect x="146.5" y="3492" width="1972.5" height="2" fill="#9c8a9c"/>
<rect x="146.5" y="1889" width="1972.5" height="10.5"/>
<rect x="146.5" y="3481.5" width="1972.5" height="10.5"/>
<rect x="146.5" y="1889" width="10.5" height="1603"/>
<rect x="2106" y="1889" width="13" height="1603"/>
<rect x="325.1" y="3468.5" width="10.5" height="13.5"/>
<path d="M503.4 3482V3455l2.5-2.5h5.5l2.5 2.5V3482z"/>
<rect x="681.7" y="3468.5" width="10.5" height="13.5"/>
<path d="M860 3482V3455l2.5-2.5h5.5l2.5 2.5V3482z"/>
<rect x="1038.3" y="3468.5" width="10.5" height="13.5"/>
<path d="M1216.6 3482V3455l2.5-2.5h5.5l2.5 2.5V3482z"/>
<rect x="1394.9" y="3468.5" width="10.5" height="13.5"/>
<path d="M1573.2 3482V3455l2.5-2.5h5.5l2.5 2.5V3482z"/>
<rect x="1751.5" y="3468.5" width="10.5" height="13.5"/>
<path d="M1929.8 3482V3455l2.5-2.5h5.5l2.5 2.5V3482z"/>
<text class="ss" x="152" y="3567.3" font-size="60.5" text-anchor="middle">928</text>
<text class="ss" x="508.6" y="3567.3" font-size="60.5" text-anchor="middle">930</text>
<text class="ss" x="865.2" y="3567.3" font-size="60.5" text-anchor="middle">932</text>
<text class="ss" x="1221.8" y="3567.3" font-size="60.5" text-anchor="middle">934</text>
<text class="ss" x="1578.4" y="3567.3" font-size="60.5" text-anchor="middle">936</text>
<text class="ss" x="1935" y="3567.3" font-size="60.5" text-anchor="middle">938</text>
<polyline fill="none" stroke-width="15.2" stroke-linejoin="bevel" stroke-linecap="butt" stroke="#000" points="394,3327.8 411.8,3328.2 429.7,3328.3 447.5,3330.5 465.3,3330.3 483.1,3327.9 501,3326.8 518.8,3325.7 536.6,3320.9 556,3311.8 583.8,3290.8 614.8,3262.2 631.2,3240.4 647.5,3213.1 662.3,3179.7 678.1,3139.3 694.7,3091.5 710.7,3035.9 726.7,2972.5 741.9,2901.4 757,2823.3 772.6,2739.4 788,2651.1 802.9,2560.5 819.7,2469.9 837.3,2381.8 855.1,2299 872.9,2224.3 890.4,2160.4 907.8,2109.4 924.3,2074.1 938,2055.5 950,2051.7 965.7,2059.6 983.3,2082.9 1001.4,2120.8 1019.5,2171.1 1037.6,2230.1 1057.9,2295.3 1079.4,2363.9 1100.8,2433.4 1121.9,2501.4 1141.5,2565.9 1161.5,2625.3 1183.4,2678.7 1205.2,2725.4 1224.2,2765.2 1242,2798.2 1259.2,2825 1274.6,2846.4 1286.2,2863 1303.3,2882.1 1321.2,2898 1339,2910.3 1356.8,2916.9 1374.6,2923.1 1392.5,2929.6 1410.3,2936.9 1428.1,2945.3 1446,2954.7 1463.8,2965.6 1481.6,2977.8 1499.5,2990.9 1517.3,3005.3 1535.1,3020.8 1552.9,3037.2 1570.8,3054 1588.6,3070.9 1606.4,3088.1 1624.3,3105.3 1642.1,3122.2 1659.9,3138.7 1677.8,3154.5 1695.6,3172.3 1713.4,3189.5 1731.2,3208.2 1749.1,3227.4 1766.9,3246.4 1784.7,3265.1 1802.6,3282.8 1818.7,3297 1834.4,3309.6 1848.1,3320 1860.5,3328.5"/>
<polyline fill="none" stroke-width="15.2" stroke-linejoin="bevel" stroke-linecap="butt" stroke="#00f" points="394,3329 1872.5,3338.5"/>
<polyline fill="none" stroke-width="15.2" stroke-linejoin="bevel" stroke-linecap="butt" stroke="#f00" points="394,3327.8 411.8,3327.2 429.7,3326.3 447.5,3325 465.3,3323 483.1,3320.1 501,3316.1 518.8,3310.5 536.6,3302.9 554.5,3292.8 572.3,3279.4 590.1,3262.2 608,3240.4 625.8,3213.1 643.6,3179.7 661.5,3139.3 679.3,3091.5 697.1,3035.9 714.9,2972.5 732.8,2901.4 750.6,2823.3 768.4,2739.4 786.3,2651.1 804.1,2560.5 821.9,2469.9 839.8,2381.8 857.6,2299 875.4,2224.3 893.2,2160.1 911.1,2108.6 928.9,2071.8 946.7,2050.5 964.6,2045.4 982.4,2056.2 1000.2,2081.8 1018,2120.8 1035.9,2171.1 1053.7,2230.1 1071.5,2295.3 1089.4,2363.9 1107.2,2433.4 1125,2501.4 1142.9,2565.9 1160.7,2625.3 1178.5,2678.7 1196.3,2725.4 1214.2,2765.2 1232,2798.2 1249.8,2825 1267.7,2846.4 1285.5,2863 1303.3,2876 1321.2,2886.2 1339,2894.5 1356.8,2901.8 1374.6,2908.9 1392.5,2916.1 1410.3,2924.2 1428.1,2933.3 1446,2943.8 1463.8,2955.6 1481.6,2969 1499.5,2983.6 1517.3,2999.6 1535.1,3016.7 1552.9,3034.6 1570.8,3053.2 1588.6,3072.3 1606.4,3091.5 1624.3,3110.8 1642.1,3129.8 1659.9,3148.3 1677.8,3166.3 1695.6,3183.5 1713.4,3199.8 1731.2,3215.2 1749.1,3229.5 1766.9,3242.8 1784.7,3254.9 1802.6,3266 1820.4,3276 1838.2,3285 1856.1,3293 1872.5,3299.5"/>
<polyline fill="none" stroke-width="15.2" stroke-linejoin="bevel" stroke-linecap="butt" stroke="#f0f" points="394,3327.8 411.8,3327.3 429.7,3326.4 447.5,3325.1 465.3,3323.1 483.1,3320.3 501,3316.4 518.8,3310.9 536.6,3303.4 554.5,3293.4 572.3,3280.3 590.1,3263.3 608,3241.8 625.8,3215 643.6,3182.1 661.5,3142.4 679.3,3095.4 697.1,3040.9 714.9,2978.7 732.8,2909.1 750.6,2832.9 768.4,2751.2 786.3,2665.7 804.1,2578.3 821.9,2491.4 839.8,2407.7 857.6,2330 875.4,2261.1 893.2,2203.6 911.1,2159.8 928.9,2131.5 946.7,2119.8 964.6,2125.4 982.4,2147.9 1000.2,2186.4 1018,2239.4 1035.9,2304.6 1053.7,2379.7 1071.5,2461.7 1089.4,2548 1107.2,2635.7 1125,2722.5 1142.9,2806 1160.7,2884.6 1178.5,2956.9 1196.3,3022.1 1214.2,3079.7 1232,3129.7 1249.8,3172.2 1267.7,3207.7 1285.5,3236.9 1303.3,3260.6 1321.2,3279.3 1339,3294 1356.8,3305.3 1374.6,3313.8 1392.5,3320.2 1410.3,3324.9 1428.1,3328.4 1446,3330.8 1463.8,3332.6 1481.6,3333.8 1499.5,3334.7 1517.3,3335.3 1535.1,3335.8 1552.9,3336.1 1570.8,3336.3 1588.6,3336.5 1606.4,3336.7 1624.3,3336.9 1642.1,3337 1659.9,3337.1 1677.8,3337.2 1695.6,3337.4 1713.4,3337.5 1731.2,3337.6 1749.1,3337.7 1766.9,3337.8 1784.7,3337.9 1802.6,3338.1 1820.4,3338.2 1838.2,3338.3 1856.1,3338.4 1872.5,3338.5"/>
<polyline fill="none" stroke-width="15.2" stroke-linejoin="bevel" stroke-linecap="butt" stroke="#008000" points="394,3329 411.8,3329.1 429.7,3329.2 447.5,3329.2 465.3,3329.3 483.1,3329.4 501,3329.4 518.8,3329.4 536.6,3329.4 554.5,3329.4 572.3,3329.3 590.1,3329.2 608,3328.9 625.8,3328.6 643.6,3328.2 661.5,3327.6 679.3,3326.9 697.1,3326 714.9,3324.9 732.8,3323.4 750.6,3321.7 768.4,3319.6 786.3,3317 804.1,3313.9 821.9,3310.3 839.8,3306 857.6,3301.1 875.4,3295.3 893.2,3288.7 911.1,3281.2 928.9,3272.7 946.7,3263.2 964.6,3252.7 982.4,3241 1000.2,3228.3 1018,3214.5 1035.9,3199.6 1053.7,3183.7 1071.5,3167 1089.4,3149.4 1107.2,3131.3 1125,3112.6 1142.9,3093.7 1160.7,3074.7 1178.5,3055.9 1196.3,3037.5 1214.2,3019.7 1232,3002.9 1249.8,2987.4 1267.7,2973.2 1285.5,2960.8 1303.3,2950.3 1321.2,2941.8 1339,2935.6 1356.8,2931.8 1374.6,2930.3 1392.5,2931.3 1410.3,2934.8 1428.1,2940.6 1446,2948.7 1463.8,2958.9 1481.6,2971.1 1499.5,2985.1 1517.3,3000.5 1535.1,3017.2 1552.9,3035 1570.8,3053.4 1588.6,3072.4 1606.4,3091.6 1624.3,3110.8 1642.1,3129.8 1659.9,3148.3 1677.8,3166.3 1695.6,3183.5 1713.4,3199.8 1731.2,3215.2 1749.1,3229.5 1766.9,3242.8 1784.7,3254.9 1802.6,3266 1820.4,3276 1838.2,3285 1856.1,3293 1872.5,3299.5"/>
<text class="sb" x="233" y="2036.5" font-size="120">b</text>
<text class="sr" font-size="72.5"><tspan x="816" y="2010.5">Cu</tspan><tspan x="898.5" y="1972" font-size="60">+</tspan><tspan x="929.5" y="2010.5" textLength="332" lengthAdjust="spacingAndGlyphs">(932.48 ev)</tspan></text>
<text class="sr" font-size="72.5"><tspan x="1323.5" y="2793.5">Cu</tspan><tspan x="1405.5" y="2750" font-size="60" textLength="27" lengthAdjust="spacingAndGlyphs">2</tspan><tspan x="1435" y="2750" font-size="60">+</tspan><tspan x="1468.5" y="2793.5" textLength="330" lengthAdjust="spacingAndGlyphs">(934.87 ev)</tspan></text>
<text class="sr" font-size="72.5"><tspan x="283" y="2401.5">Cu</tspan><tspan x="366" y="2367" font-size="62">+</tspan><tspan x="400.8" y="2401.5">: 66%</tspan></text>
<text class="sr" font-size="72.5"><tspan x="283" y="2524">Cu</tspan><tspan x="366" y="2485" font-size="62" textLength="28" lengthAdjust="spacingAndGlyphs">2</tspan><tspan x="395" y="2485" font-size="62">+</tspan><tspan x="431" y="2524">: 34%</tspan></text>
<text class="sb" x="851" y="3680" font-size="72.5" textLength="563" lengthAdjust="spacingAndGlyphs">Binding energy/ev</text>
<text class="sb" transform="translate(70.5 2882) rotate(-90)" font-size="72.5" textLength="411" lengthAdjust="spacingAndGlyphs">Intensity/a.u.</text>
</g>
</svg></body></html>
